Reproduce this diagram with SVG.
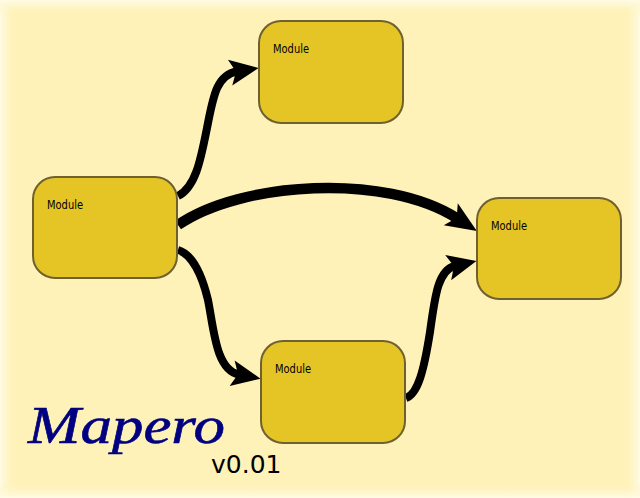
<svg xmlns="http://www.w3.org/2000/svg" width="640" height="498" viewBox="0 0 640 498">
<style>
.box{fill:#e5c526;stroke:#6f6030;stroke-width:2}
.lbl{font-family:"DejaVu Sans",sans-serif;font-size:12px;fill:#000}
.c{fill:none;stroke:#000}
</style>
<defs>
<linearGradient id="gl" x1="0" x2="1" y1="0" y2="0"><stop offset="0" stop-color="#fffbe6"/><stop offset="1" stop-color="#fef2b8" stop-opacity="0"/></linearGradient>
<linearGradient id="gr" x1="1" x2="0" y1="0" y2="0"><stop offset="0" stop-color="#fffbe6"/><stop offset="1" stop-color="#fef2b8" stop-opacity="0"/></linearGradient>
<linearGradient id="gt" x1="0" x2="0" y1="0" y2="1"><stop offset="0" stop-color="#fffbe6"/><stop offset="1" stop-color="#fef2b8" stop-opacity="0"/></linearGradient>
<linearGradient id="gb" x1="0" x2="0" y1="1" y2="0"><stop offset="0" stop-color="#fffbe6"/><stop offset="1" stop-color="#fef2b8" stop-opacity="0"/></linearGradient>
<marker id="ah" markerUnits="userSpaceOnUse" markerWidth="40" markerHeight="40" refX="14" refY="20" orient="auto" viewBox="0 0 40 40"><path d="M36,20 L7,7 L13,20 L7,33 Z" fill="#000"/></marker>
<marker id="ahb" markerUnits="userSpaceOnUse" markerWidth="44" markerHeight="44" refX="14" refY="22" orient="auto" viewBox="0 0 44 44"><path d="M37,22 L6,9 L13,22 L6,35 Z" fill="#000"/></marker>
</defs>
<g id="background">
<rect width="640" height="498" fill="#fef2b8"/>
<rect width="18" height="498" fill="url(#gl)"/>
<rect x="622" width="18" height="498" fill="url(#gr)"/>
<rect width="640" height="16" fill="url(#gt)"/>
<rect y="482" width="640" height="16" fill="url(#gb)"/>
</g>
<g id="connectors">
<path class="c" stroke-width="8" d="M178,196 C196,187 201,158 207,128 C213,98 216,75 237,71.500" marker-end="url(#ah)"/>
<path class="c" stroke-width="10.5" d="M178,225 C240,182 385,172 457.500,218.600" marker-end="url(#ahb)"/>
<path class="c" stroke-width="8" d="M178,250 C192,254 202,275 208,300 C214,330 216,370 239,374.500" marker-end="url(#ah)"/>
<path class="c" stroke-width="8" d="M406,398 C418,394 424,370 430,332 C435,296 438,270 455,266" marker-end="url(#ah)"/>
</g>
<g id="node-left"><rect class="box" x="33" y="177" width="144" height="101" rx="22"/><text class="lbl" x="47" y="209" textLength="36" lengthAdjust="spacingAndGlyphs">Module</text></g>
<g id="node-top"><rect class="box" x="259" y="21" width="144" height="102" rx="22"/><text class="lbl" x="273" y="53" textLength="36" lengthAdjust="spacingAndGlyphs">Module</text></g>
<g id="node-right"><rect class="box" x="477" y="198" width="144" height="101" rx="22"/><text class="lbl" x="491" y="230" textLength="36" lengthAdjust="spacingAndGlyphs">Module</text></g>
<g id="node-bottom"><rect class="box" x="261" y="341" width="144" height="102" rx="22"/><text class="lbl" x="275" y="373" textLength="36" lengthAdjust="spacingAndGlyphs">Module</text></g>
<g id="title">
<text x="28" y="443" font-family="'Liberation Serif',serif" font-style="italic" font-size="52" fill="#000080" stroke="#000080" stroke-width="0.6" textLength="197" lengthAdjust="spacingAndGlyphs">Mapero</text>
<text x="211" y="473" font-family="'DejaVu Sans',sans-serif" font-size="25" fill="#000">v0.01</text>
</g>
</svg>
